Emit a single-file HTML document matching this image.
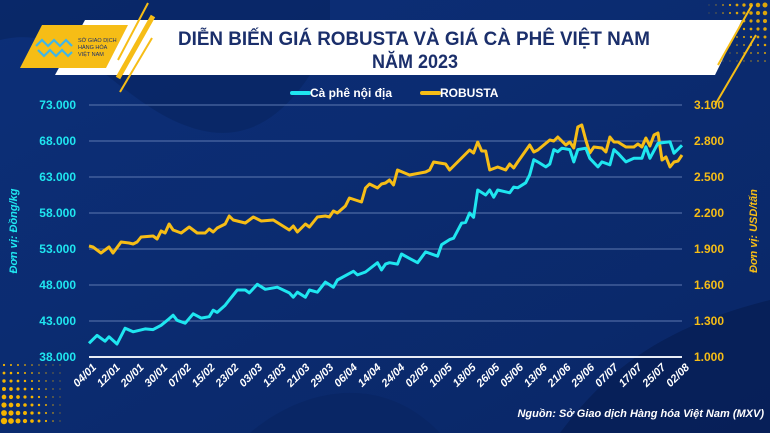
<!DOCTYPE html>
<html><head><meta charset="utf-8">
<style>
html,body{margin:0;padding:0;width:770px;height:433px;overflow:hidden;background:#0a2a6e;}
svg{display:block;font-family:"Liberation Sans","Noto Sans CJK SC",sans-serif;}
</style></head>
<body>
<svg id="chart" width="770" height="433" viewBox="0 0 770 433">
  <defs>
    <linearGradient id="bg" x1="0" y1="0" x2="1" y2="1">
      <stop offset="0" stop-color="#0c2f78"/><stop offset="1" stop-color="#0a2767"/>
    </linearGradient>
  </defs>
  <rect x="0" y="0" width="770" height="433" fill="url(#bg)"/>
  <path d="M0,40 C80,20 120,110 200,130 C260,145 300,100 330,40 L330,0 L0,0 Z" fill="#082562" opacity="0.7"/>
  <path d="M560,433 C600,380 650,330 770,300 L770,433 Z" fill="#061e55" opacity="0.8"/>
  <path d="M250,433 C300,390 380,370 440,433 Z" fill="#082460" opacity="0.6"/>
  <g fill="#f4b400" id="dots"></g>
  <polygon points="85,20 742,20 715,75 55,75" fill="#ffffff"/>
  <polygon points="42,25 128,25 106,68 20,68" fill="#f6bd16"/>
  <line x1="148" y1="3" x2="118" y2="60" stroke="#f6bd16" stroke-width="2"/>
  <line x1="153" y1="16" x2="118" y2="78" stroke="#f6bd16" stroke-width="5"/>
  <line x1="152" y1="38" x2="120" y2="92" stroke="#f6bd16" stroke-width="2"/>
  <line x1="752" y1="5" x2="718" y2="65" stroke="#f6bd16" stroke-width="2"/>
  <line x1="756" y1="35" x2="715" y2="105" stroke="#f6bd16" stroke-width="2"/>
  <g fill="none" stroke="#3fb6e8" stroke-width="2.2">
    <path d="M36,46 L42,40 L48,46 L54,40 L60,46 L66,40 L72,46"/>
    <path d="M38,50 L44,56 L50,50 L56,56 L62,50 L68,56 L72,52"/>
  </g>
  <text x="78" y="42" font-size="5.5" fill="#1b2f6b">SỞ GIAO DỊCH</text>
  <text x="78" y="49" font-size="5.5" fill="#1b2f6b">HÀNG HÓA</text>
  <text x="78" y="56" font-size="5.5" fill="#1b2f6b">VIỆT NAM</text>
  <text x="178" y="45" font-size="19" font-weight="bold" fill="#1b2f6b" textLength="472" lengthAdjust="spacingAndGlyphs">DIỄN BIẾN GIÁ ROBUSTA VÀ GIÁ CÀ PHÊ VIỆT NAM</text>
  <text x="372" y="68" font-size="19" font-weight="bold" fill="#1b2f6b" textLength="86" lengthAdjust="spacingAndGlyphs">NĂM 2023</text>
  <g>
    <line x1="292" y1="93" x2="309" y2="93" stroke="#1fe6f0" stroke-width="4" stroke-linecap="round"/>
    <text x="310" y="97" font-size="12" font-weight="bold" fill="#ffffff">Cà phê nội địa</text>
  </g>
  <g>
    <line x1="422" y1="93" x2="439" y2="93" stroke="#f6bd16" stroke-width="4" stroke-linecap="round"/>
    <text x="440" y="97" font-size="12" font-weight="bold" fill="#ffffff">ROBUSTA</text>
  </g>
  <g id="grid"></g>
  <g id="axes"></g>
  <g id="series"></g>
  <text transform="translate(17,231) rotate(-90)" font-size="11" font-weight="bold" font-style="italic" fill="#1fe6f0" text-anchor="middle">Đơn vị: Đồng/kg</text>
  <text transform="translate(757,231) rotate(-90)" font-size="11" font-weight="bold" font-style="italic" fill="#f6bd16" text-anchor="middle">Đơn vị: USD/tấn</text>
  <text x="764" y="417" font-size="11" font-weight="bold" font-style="italic" fill="#ffffff" text-anchor="end">Nguồn: Sở Giao dịch Hàng hóa Việt Nam (MXV)</text>
</svg>
<script>
const dateLabels = ["04/01","12/01","20/01","30/01","07/02","15/02","23/02","03/03","13/03","21/03","29/03","06/04","14/04","24/04","02/05","10/05","18/05","26/05","05/06","13/06","21/06","29/06","07/07","17/07","25/07","02/08"];
const leftTicks = [38000,43000,48000,53000,58000,63000,68000,73000];
const rightTicks = [1000,1300,1600,1900,2200,2500,2800,3100];
const domesticSessions = [0,2,4,5,7,9,11,14,16,18,20,21,22,24,26,28,30,31,32,34,35,37,39,40,42,44,47,50,51,52,54,55,57,59,61,62,66,67,69,72,73,74,75,77,78,80,82,84,87,88,90,91,93,94,95,96,97,99,100,101,102,105,106,107,109,110,111,112,114,115,116,117,118,120,121,122,124,125,127,128,130,131,132,134,136,138,139,140,142,145,146,148];
const domesticValues = [39900,41000,40200,40800,39800,42000,41500,41900,41800,42400,43300,43800,43100,42700,44000,43400,43600,44500,44200,45200,45900,47300,47300,46900,48100,47400,47700,46900,46300,47000,46300,47300,47000,48400,47700,48700,49900,49400,49800,51100,50100,50900,51100,50900,52300,51700,51100,52600,52000,53600,54300,54500,56600,56700,58000,57400,61200,60500,61200,60200,61200,60800,61600,61500,62200,63300,65400,65100,64400,64800,66800,66500,67000,66800,65100,66800,67000,65600,64400,65100,64700,66800,66300,65100,65600,65600,67200,65600,67700,67900,66300,67400];
const robustaSessions = [0,1,3,5,6,8,10,11,12,13,16,17,18,19,20,21,23,25,27,29,30,31,32,34,35,36,39,41,43,46,48,50,51,52,54,55,57,59,60,61,62,64,65,68,69,70,72,73,74,75,76,77,80,84,85,86,89,90,93,95,96,97,98,99,100,102,104,105,106,107,110,111,112,115,116,117,119,120,121,122,123,124,125,126,128,129,130,131,132,134,136,137,138,139,140,141,142,143,144,145,146,147,148];
const robustaValues = [1925,1917,1867,1917,1867,1958,1950,1942,1958,2000,2008,1983,2050,2033,2108,2058,2033,2083,2033,2033,2067,2042,2075,2108,2175,2142,2117,2167,2133,2142,2100,2058,2092,2042,2108,2083,2167,2175,2167,2217,2200,2258,2325,2292,2408,2442,2408,2442,2450,2475,2433,2558,2517,2542,2558,2625,2608,2558,2658,2725,2700,2792,2717,2717,2558,2583,2558,2608,2575,2625,2767,2708,2725,2808,2800,2833,2767,2792,2742,2917,2933,2808,2700,2750,2742,2708,2833,2792,2792,2750,2750,2775,2750,2825,2758,2850,2867,2642,2667,2583,2625,2633,2683];

const NS = "http://www.w3.org/2000/svg";
const X0 = 89, X1 = 682, Y0 = 357, Y1 = 105;
const sessionMax = 148;
const xScale = s => X0 + (s / sessionMax) * (X1 - X0);
const yLeft = v => Y0 - (v - 38000) / (73000 - 38000) * (Y0 - Y1);
const yRight = v => Y0 - (v - 1000) / (3100 - 1000) * (Y0 - Y1);
const fmt = v => String(v).replace(/\B(?=(\d{3})+(?!\d))/g, ".");
function mk(tag, attrs, parent, txt) {
  const el = document.createElementNS(NS, tag);
  for (const k in attrs) el.setAttribute(k, attrs[k]);
  if (txt !== undefined) el.textContent = txt;
  parent.appendChild(el);
  return el;
}
const grid = document.getElementById('grid');
const axes = document.getElementById('axes');
const series = document.getElementById('series');

leftTicks.forEach((t, i) => {
  const y = yLeft(t);
  const gl = mk('line', {x1: X0, x2: X1, y1: y, y2: y, stroke: i === 0 ? '#e8ecf5' : '#5d78b0', 'stroke-width': i === 0 ? 2 : 1}, grid);
  
  
  const tl = mk('text', {x: 76, y: y + 4, 'font-size': 12, 'font-weight': 'bold', fill: '#1fe6f0', 'text-anchor': 'end'}, axes, fmt(t));
  
  
});
rightTicks.forEach(t => {
  const y = yRight(t);
  const tl = mk('text', {x: 694, y: y + 4, 'font-size': 12, 'font-weight': 'bold', fill: '#f6bd16'}, axes, fmt(t));
  
  
});
dateLabels.forEach((d, i) => {
  const x = X0 + 8 + i * (X1 - X0) / (dateLabels.length - 1);
  const tl = mk('text', {x: 0, y: 0, 'font-size': 11, 'font-weight': 'bold', 'font-style': 'italic', fill: '#ffffff', 'text-anchor': 'end', transform: `translate(${x},${368}) rotate(-45)`}, axes, d);
  
  
});
const pRob = robustaSessions.map((s, i) => `${xScale(s).toFixed(1)},${yRight(robustaValues[i]).toFixed(1)}`).join(' ');
const lr = mk('polyline', {points: pRob, fill: 'none', stroke: '#f6bd16', 'stroke-width': 3, 'stroke-linejoin': 'round'}, series);


const pDom = domesticSessions.map((s, i) => `${xScale(s).toFixed(1)},${yLeft(domesticValues[i]).toFixed(1)}`).join(' ');
const ld = mk('polyline', {points: pDom, fill: 'none', stroke: '#1fe6f0', 'stroke-width': 3, 'stroke-linejoin': 'round'}, series);



const dots = document.getElementById('dots');
for (let r = 0; r < 8; r++) for (let c = 0; c < 9; c++) {
  const cx = 4 + c * 7, cy = 365 + r * 8;
  const rad = Math.max(0.5, 0.4 + (8 - c) * 0.3 * (r / 8 + 0.3));
  mk('circle', {cx, cy, r: rad.toFixed(2)}, dots);
}
for (let r = 0; r < 8; r++) for (let c = 0; c < 9; c++) {
  const cx = 765 - c * 7, cy = 5 + r * 8;
  const rad = Math.max(0.4, 0.3 + (8 - c) * 0.25 * ((8 - r) / 8 + 0.1));
  mk('circle', {cx, cy, r: rad.toFixed(2), opacity: 0.9}, dots);
}
</script>
</body></html>
